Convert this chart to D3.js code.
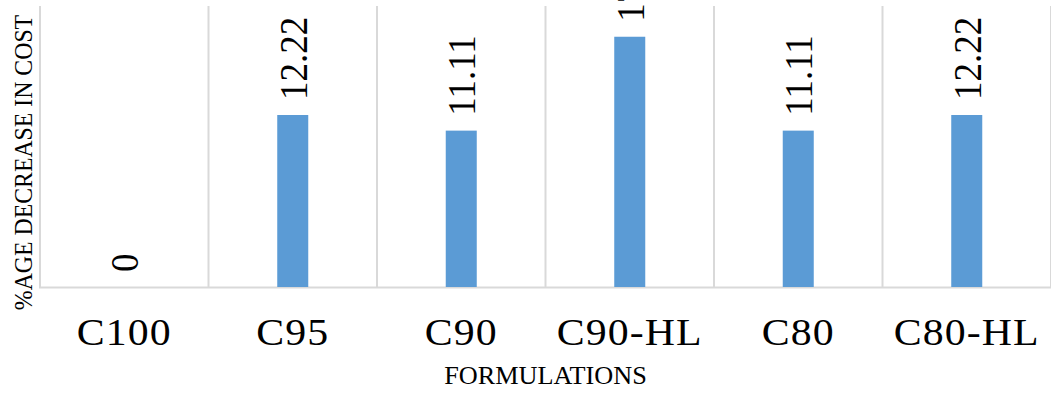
<!DOCTYPE html>
<html>
<head>
<meta charset="utf-8">
<script src="https://cdn.jsdelivr.net/npm/d3@7"></script>
<style>
  html, body { margin: 0; padding: 0; background: #fff; }
  svg { display: block; }
</style>
</head>
<body>
<svg id="chart" width="1051" height="396"></svg>
<script>
// Cost reduction per formulation
const categories = ["C100", "C95", "C90", "C90-HL", "C80", "C80-HL"];
const values = [0, 12.22, 11.11, 17.78, 11.11, 12.22];
const valueLabels = ["0", "12.22", "11.11", "17.78", "11.11", "12.22"];
const yDomain = [0, 20];
const xTitle = "FORMULATIONS";
const yTitle = "%AGE DECREASE IN COST";

const FONT = "Liberation Serif";
const svg = d3.select("#chart");
const margin = { left: 40, top: 5.5, bottom: 287 };
const plotRight = 1051;
const stretch = 1.1;

const x = d3.scaleBand().domain(categories).range([margin.left, plotRight]).padding(0);
const y = d3.scaleLinear().domain(yDomain).range([margin.bottom, margin.top]);
const barW = x.bandwidth() * 0.184;

// vertical separators between categories
const edges = categories.map(c => x(c)).concat([x(categories[categories.length - 1]) + x.bandwidth()]);
svg.append("g").selectAll("line").data(edges).join("line")
  .attr("x1", d => d).attr("x2", d => d)
  .attr("y1", y(yDomain[1]) + 0.5).attr("y2", y(0))
  .attr("stroke", "#d9d9d9").attr("stroke-width", 2);

// baseline
svg.append("line")
  .attr("x1", margin.left - 1).attr("x2", plotRight)
  .attr("y1", y(0) + 0.5).attr("y2", y(0) + 0.5)
  .attr("stroke", "#d9d9d9").attr("stroke-width", 2);

// bars
svg.append("g").selectAll("rect").data(values).join("rect")
  .attr("x", (d, i) => x(categories[i]) + x.bandwidth() / 2 - barW / 2)
  .attr("y", d => y(d))
  .attr("width", barW)
  .attr("height", d => y(0) - y(d))
  .attr("fill", "#5b9bd5");

// rotated value labels above bars
svg.append("g").selectAll("text").data(values).join("text")
  .attr("transform", (d, i) => {
    const cx = x(categories[i]) + x.bandwidth() / 2;
    return `translate(${cx},${y(d) - 15}) scale(${stretch},1) rotate(-90)`;
  })
  .attr("dy", "0.34em")
  .attr("text-anchor", "start")
  .attr("font-family", FONT)
  .attr("font-size", 37)
  .attr("fill", "#000")
  .text((d, i) => valueLabels[i]);

// category labels
svg.append("g").selectAll("text").data(categories).join("text")
  .attr("transform", d => `translate(${x(d) + x.bandwidth() / 2},345) scale(${stretch},1)`)
  .attr("text-anchor", "middle")
  .attr("font-family", FONT)
  .attr("font-size", 38)
  .attr("letter-spacing", 1)
  .attr("fill", "#000")
  .text(d => d);

// axis titles
svg.append("text")
  .attr("transform", `translate(${(margin.left + plotRight) / 2},384.3) scale(1.05,1)`)
  .attr("text-anchor", "middle")
  .attr("font-family", FONT)
  .attr("font-size", 25)
  .attr("fill", "#000")
  .text(xTitle);

svg.append("text")
  .attr("transform", `translate(32,162.5) scale(${stretch},1) rotate(-90)`)
  .attr("text-anchor", "middle")
  .attr("font-family", FONT)
  .attr("font-size", 23.8)
  .attr("fill", "#000")
  .text(yTitle);
</script>
</body>
</html>
